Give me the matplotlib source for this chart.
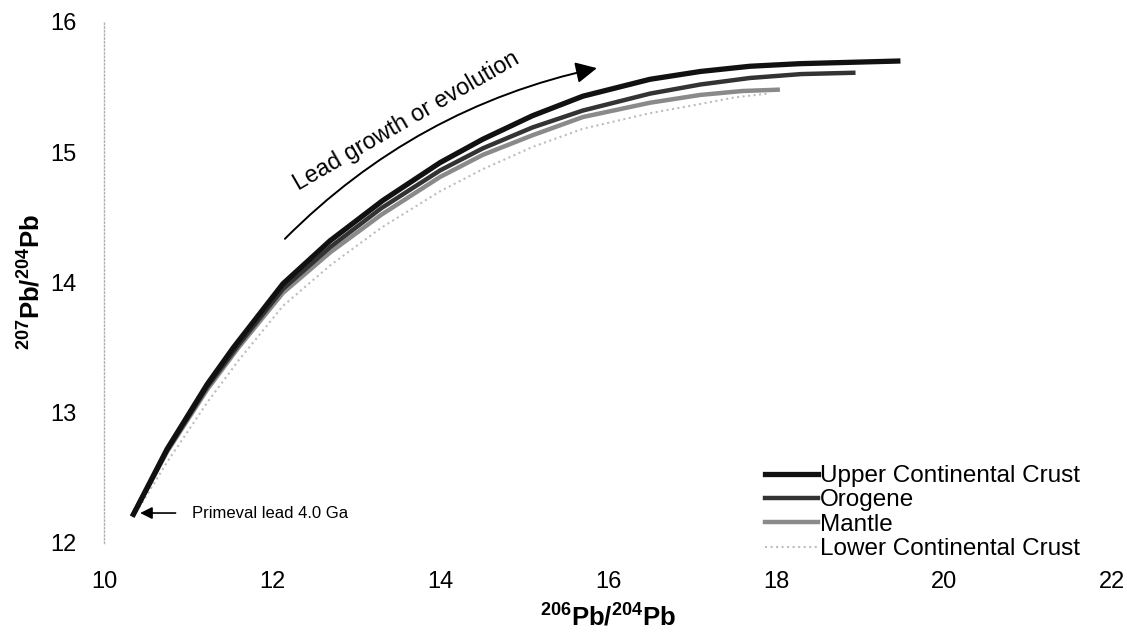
import matplotlib
matplotlib.use('Agg')
import matplotlib.pyplot as plt
from matplotlib.patches import FancyArrowPatch

plt.rcParams['font.family'] = ['Liberation Sans', 'DejaVu Sans']
plt.rcParams['mathtext.fontset'] = 'custom'
plt.rcParams['mathtext.rm'] = 'Liberation Sans'
plt.rcParams['mathtext.bf'] = 'Liberation Sans:bold'

# lead evolution curves, 206Pb/204Pb vs 207Pb/204Pb
upper_x = [10.35, 10.75, 11.23, 11.54, 12.13, 12.69, 13.32, 14.0, 14.51, 15.1, 15.7, 16.5, 17.1, 17.69, 18.29, 19.45]
upper_y = [12.22, 12.72, 13.22, 13.50, 13.99, 14.32, 14.63, 14.92, 15.10, 15.28, 15.43, 15.56, 15.62, 15.66, 15.68, 15.70]

orogene_x = [10.35, 10.75, 11.23, 11.6, 12.13, 12.69, 13.3, 14.0, 14.51, 15.1, 15.7, 16.5, 17.1, 17.69, 18.3, 18.92]
orogene_y = [12.22, 12.71, 13.20, 13.52, 13.95, 14.27, 14.57, 14.86, 15.03, 15.19, 15.32, 15.45, 15.52, 15.57, 15.60, 15.61]

mantle_x = [10.35, 10.75, 11.23, 11.6, 12.13, 12.69, 13.3, 14.0, 14.51, 15.1, 15.7, 16.5, 17.1, 17.6, 18.02]
mantle_y = [12.22, 12.70, 13.18, 13.50, 13.92, 14.23, 14.52, 14.81, 14.98, 15.13, 15.27, 15.38, 15.44, 15.47, 15.48]

lower_x = [10.35, 10.75, 11.23, 11.6, 12.13, 12.69, 13.3, 14.0, 14.51, 15.1, 15.7, 16.5, 17.1, 17.5, 17.9]
lower_y = [12.20, 12.62, 13.08, 13.40, 13.82, 14.13, 14.42, 14.70, 14.87, 15.04, 15.18, 15.30, 15.37, 15.42, 15.45]

x_ticks = [10, 12, 14, 16, 18, 20, 22]
y_ticks = [12, 13, 14, 15, 16]

fig = plt.figure(figsize=(11.27, 6.35), dpi=100)
ax = fig.add_axes([0.0923, 0.1449, 0.8944, 0.8205])

ax.plot(lower_x, lower_y, color='#bdbdbd', lw=1.5, ls=':', label='Lower Continental Crust', zorder=2)
ax.plot(mantle_x, mantle_y, color='#8a8a8a', lw=3.2, label='Mantle', zorder=3)
ax.plot(orogene_x, orogene_y, color='#333333', lw=3.2, label='Orogene', zorder=4)
ax.plot(upper_x, upper_y, color='#111111', lw=3.8, label='Upper Continental Crust', zorder=5)

ax.set_xlim(10, 22)
ax.set_ylim(12, 16)
ax.set_xticks(x_ticks)
ax.set_yticks(y_ticks)
ax.tick_params(length=0, labelsize=17, pad=20)

for side in ['top', 'right', 'bottom']:
    ax.spines[side].set_visible(False)
ax.spines['left'].set_linestyle(':')
ax.spines['left'].set_color('#b0b0b0')
ax.spines['left'].set_linewidth(1)

ax.set_xlabel(r'$\mathbf{^{206}Pb/^{204}Pb}$', fontsize=18.5)
ax.set_ylabel(r'$\mathbf{^{207}Pb/^{204}Pb}$', fontsize=18.5)
ax.xaxis.set_label_coords(0.5, -0.116)
ax.yaxis.set_label_coords(-0.058, 0.5)

# curved arrow and its label
arc = FancyArrowPatch((12.13, 14.32), (15.9, 15.65), connectionstyle='arc3,rad=-0.15',
                      arrowstyle='-|>', mutation_scale=32, lw=1.4, color='black', zorder=6)
ax.add_patch(arc)
ax.text(13.6, 15.24, 'Lead growth or evolution', fontsize=16.8, rotation=30,
        rotation_mode='anchor', ha='center', va='center')

ax.annotate('Primeval lead 4.0 Ga', xy=(10.43, 12.23), xytext=(11.05, 12.23),
            fontsize=12, va='center',
            arrowprops=dict(arrowstyle='-|>', color='black', lw=1.2, mutation_scale=18,
                            shrinkA=10, shrinkB=0))

handles, labels = ax.get_legend_handles_labels()
order = [3, 2, 1, 0]
ax.legend([handles[i] for i in order], [labels[i] for i in order],
          loc='upper left', bbox_to_anchor=(765 / 1127, 1 - 465 / 635),
          bbox_transform=fig.transFigure, frameon=False, fontsize=17.5,
          handlelength=2.18, handletextpad=0.08, labelspacing=0.1, borderpad=0,
          borderaxespad=0)

fig.savefig('out.png', dpi=100)
